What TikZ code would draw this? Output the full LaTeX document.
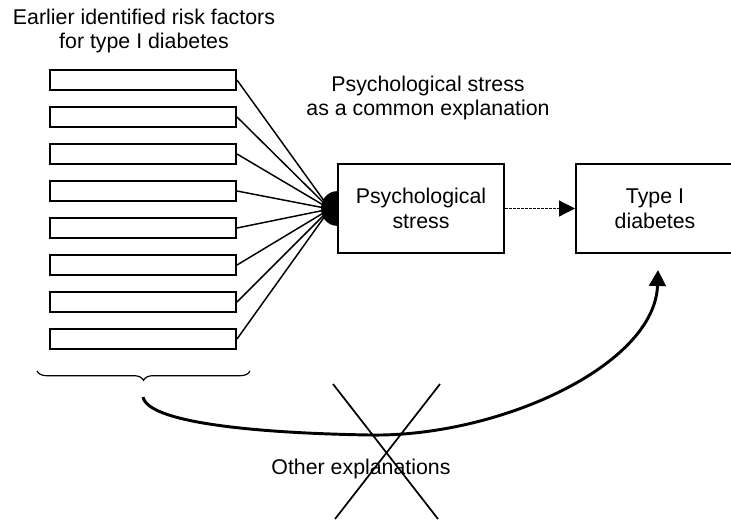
\documentclass[tikz,border=0pt]{standalone}
\usepackage{fontspec}
\setmainfont{Liberation Sans}
\usetikzlibrary{arrows.meta,decorations.pathreplacing,calc}
\begin{document}
\begin{tikzpicture}[x=0.75pt,y=-0.75pt,
  every node/.style={font=\fontsize{16}{18.5}\selectfont},
  fbox/.style={draw,line width=1.5pt,minimum width=139.5pt,minimum height=15pt,inner sep=0pt},
  bigbox/.style={draw,line width=1.5pt,minimum height=66.75pt,align=center,inner sep=0pt},
  lbl/.style={align=center,inner sep=0pt},
  fan/.style={line width=1.1pt},
  bigarrow/.style={line width=2.2pt,-{Triangle[width=12.5pt,length=12pt]}}
]
\useasboundingbox (0,0) rectangle (731,519);
\node[lbl] (title) at (144,31) {Earlier identified risk factors\\for type I diabetes};
\node[lbl] (common) at (428,98) {Psychological stress\\as a common explanation};
\foreach \i in {1,...,8}{
  \node[fbox] (f\i) at (143,{80+37*(\i-1)}) {};
}
\node[bigbox,minimum width=124.5pt] (ps) at (421,208.5) {Psychological\\stress};
\node[bigbox,minimum width=118.5pt] (tb) at (655,208.5) {Type I\\diabetes};
\coordinate (conv) at (330,209);
\foreach \i in {1,...,8}{
  \draw[fan] (f\i.east) -- (conv);
}
\fill (ps.west) ++(0,13pt) arc[start angle=90,end angle=270,x radius=12pt,y radius=13pt] -- cycle;
\draw[line width=0.9pt,dash pattern=on 2pt off 1pt,-{Triangle[width=12pt,length=12pt]}] (ps.east) -- (tb.west);
\coordinate (bl) at (37,371);
\coordinate (br) at (250,371);
\draw[line width=0.9pt,decorate,decoration={brace,mirror,amplitude=7pt}] (bl) -- (br);
\coordinate (cs) at (143,397);
\coordinate (cm) at (370,435);
\coordinate (ce) at (658,270);
\draw[bigarrow] (cs) .. controls (148,422) and (250,433) .. (cm) .. controls (500,437) and (655,365) .. (ce);
\coordinate (x1) at (333,384);
\coordinate (x2) at (438,519);
\coordinate (x3) at (440,384);
\coordinate (x4) at (335,519);
\draw[line width=1.3pt] (x1) -- (x2);
\draw[line width=1.3pt] (x3) -- (x4);
\node[lbl] (other) at (361,469) {Other explanations};
\end{tikzpicture}
\end{document}
